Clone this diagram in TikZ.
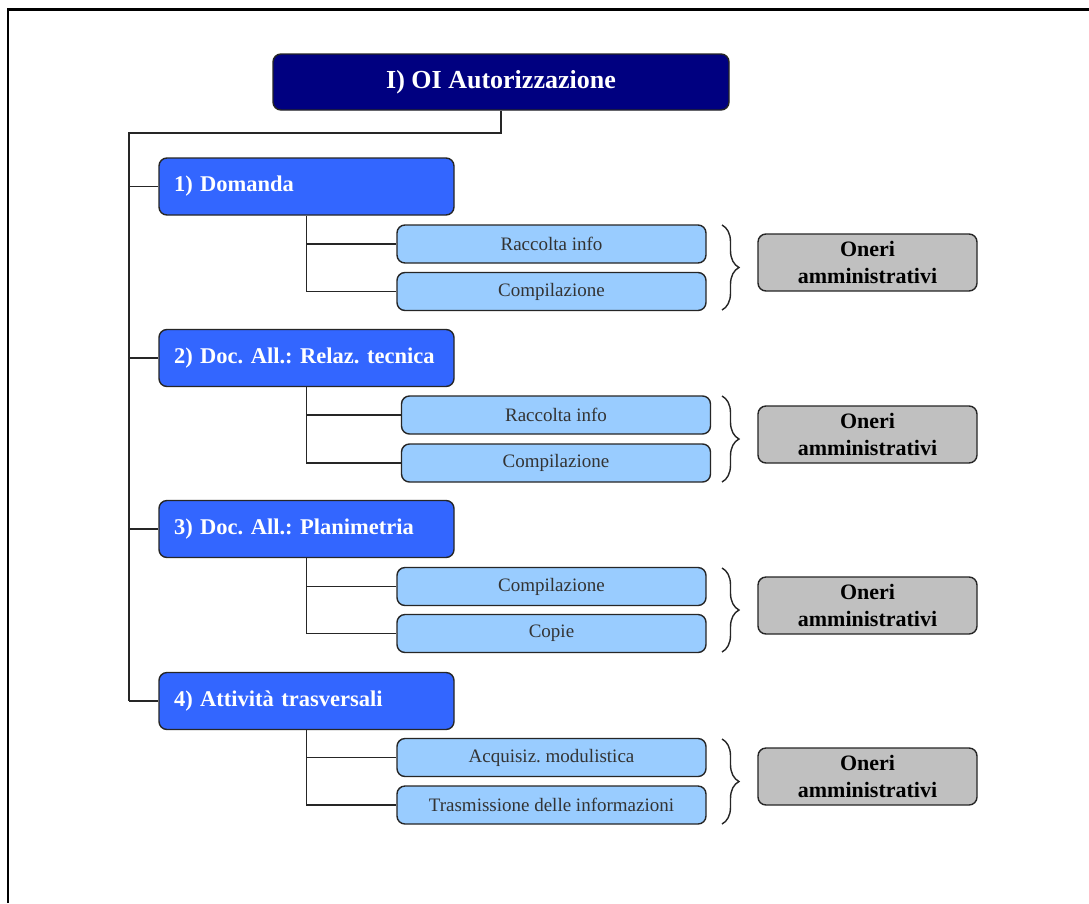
\documentclass[tikz,border=0pt]{standalone}
\usepackage{fontspec}
\setmainfont{Liberation Serif}
\frenchspacing
\usetikzlibrary{decorations.pathreplacing}
\definecolor{navyc}{HTML}{000080}
\definecolor{bluec}{HTML}{3366FF}
\definecolor{lightc}{HTML}{99CCFF}
\definecolor{greyc}{HTML}{C0C0C0}
\tikzset{
  base/.style={draw=black!85, line width=1.4pt, rounded corners=8pt},
  topbox/.style={base, fill=navyc, text=white, font=\fontsize{26}{28}\selectfont\bfseries, minimum width=456pt, minimum height=56pt},
  lvlbox/.style={base, fill=bluec, text=white, font=\fontsize{22.5}{24}\selectfont\bfseries, minimum height=57pt, text width=265pt, inner xsep=15pt, align=left},
  subbox/.style={base, fill=lightc, text=black!80, font=\fontsize{19}{21}\selectfont, minimum width=309pt, minimum height=38pt, inner sep=0pt},
  onerebox/.style={base, fill=greyc, text=black, font=\fontsize{22}{27}\selectfont\bfseries, minimum width=219pt, minimum height=57pt, align=center, inner sep=0pt},
  conn/.style={draw=black!85, line width=1.4pt},
  bracestyle/.style={draw=black!85, line width=1.4pt, decorate, decoration={brace, amplitude=17pt}}
}
\begin{document}
\begin{tikzpicture}[x=1pt, y=-1pt]
\useasboundingbox (0,0) rectangle (1089,903);
\fill[white] (0,0) rectangle (1089,903);
\draw[line width=2.2pt] (8,903) -- (8,9.5) -- (1089,9.5);

\node[topbox] (top) at (501,82) {I) OI Autorizzazione};

\node[lvlbox] (d1) at (306.5,186.5) {1) Domanda};
\node[lvlbox] (d2) at (306.5,358) {2) Doc. All.: Relaz. tecnica};
\node[lvlbox] (d3) at (306.5,529) {3) Doc. All.: Planimetria};
\node[lvlbox] (d4) at (306.5,701) {4) Attività trasversali};

\coordinate (trunk) at (129,133);
\draw[conn] (top.south) |- (trunk) -- (trunk |- d4.west);
\foreach \d in {d1,d2,d3,d4} \draw[conn] (trunk |- \d.west) -- (\d.west);

\node[subbox] (s1a) at (551.5,244) {Raccolta info};
\node[subbox] (s1b) at (551.5,291.5) {Compilazione};
\node[subbox] (s2a) at (556,415) {Raccolta info};
\node[subbox] (s2b) at (556,463) {Compilazione};
\node[subbox] (s3a) at (551.5,586.5) {Compilazione};
\node[subbox] (s3b) at (551.5,633.5) {Copie};
\node[subbox] (s4a) at (551.5,757.5) {Acquisiz. modulistica};
\node[subbox] (s4b) at (551.5,805) {Trasmissione delle informazioni};

\foreach \d/\a/\b in {d1/s1a/s1b, d2/s2a/s2b, d3/s3a/s3b, d4/s4a/s4b} {
  \draw[conn] (\d.south) |- (\b.west);
  \draw[conn] (\d.south |- \a.west) -- (\a.west);
}

\foreach \i/\ya/\yb in {1/225/310, 2/396/482, 3/568/652, 4/739/824} {
  \coordinate (bt\i) at (722,\ya);
  \coordinate (bb\i) at (722,\yb);
  \draw[bracestyle] (bt\i) -- (bb\i);
}

\node[onerebox] (o1) at (867.5,262.5) {Oneri\\amministrativi};
\node[onerebox] (o2) at (867.5,434.5) {Oneri\\amministrativi};
\node[onerebox] (o3) at (867.5,605.5) {Oneri\\amministrativi};
\node[onerebox] (o4) at (867.5,776.5) {Oneri\\amministrativi};
\end{tikzpicture}
\end{document}
